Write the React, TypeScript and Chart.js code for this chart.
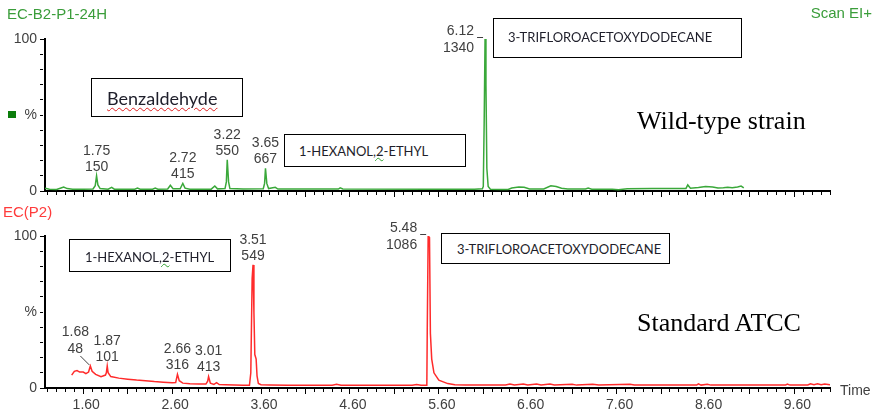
import React, { useEffect, useRef } from "react";
import { Chart, registerables } from "chart.js";

Chart.register(...registerables);

// ---------- data ----------
const X_MIN = 1.17;
const X_MAX = 10.0;
const X_LABEL_TICKS = [1.6, 2.6, 3.6, 4.6, 5.6, 6.6, 7.6, 8.6, 9.6];
const X_MAJOR_TICKS = [1.6, 2.1, 2.6, 3.1, 3.6, 4.1, 4.6, 5.1, 5.6, 6.1, 6.6, 7.1, 7.6, 8.1, 8.6, 9.1, 9.6];
const Y_TICKS = [0, 10, 20, 30, 40, 50, 60, 70, 80, 90, 100];
const Y_TICK_LABELS: Record<number, string> = { 0: "0", 50: "%", 100: "100" };

// Wild-type strain (EC-B2-P1-24H), relative intensity %
const TOP_TIME = [
  1.17, 1.22, 1.3, 1.35, 1.38, 1.42, 1.48, 1.6, 1.71, 1.735, 1.75, 1.765, 1.79, 1.88, 1.92, 1.95,
  2.18, 2.21, 2.24, 2.38, 2.41, 2.44, 2.55, 2.58, 2.61, 2.69, 2.72, 2.745, 2.8, 3.04, 3.08, 3.11,
  3.195, 3.21, 3.22, 3.235, 3.25, 3.4, 3.625, 3.64, 3.65, 3.665, 3.685, 3.76, 3.79, 4.2, 4.47, 4.49,
  4.52, 5.5, 6.0, 6.09, 6.1, 6.11, 6.12, 6.13, 6.14, 6.155, 6.18, 6.3, 6.38, 6.42, 6.5, 6.56, 6.62,
  6.78, 6.86, 6.92, 6.98, 7.05, 7.25, 7.28, 7.32, 7.55, 7.62, 7.72, 8.0, 8.38, 8.4, 8.43, 8.52, 8.6,
  8.68, 8.74, 8.8, 8.85, 8.9, 8.96, 9.0, 9.03,
];
const TOP_PCT = [
  1.8, 1.2, 1.0, 2.0, 2.6, 1.6, 1.2, 1.2, 1.3, 3.5, 10, 4, 1.6, 1.2, 2.4, 1.2,
  1.2, 1.9, 1.2, 1.2, 1.9, 1.2, 1.3, 3.8, 1.5, 1.5, 5, 1.9, 1.2, 1.2, 3.3, 1.4,
  1.6, 6, 20.5, 6, 1.6, 1.3, 1.5, 5, 15, 5, 1.6, 2.4, 1.3, 1.3, 1.3, 2.1,
  1.3, 1.2, 1.2, 1.5, 3, 45, 100, 70, 15, 3, 1.2, 1.0, 1.0, 2.0, 2.6, 2.4, 1.3,
  1.3, 3.4, 3.0, 1.8, 1.3, 1.3, 1.9, 1.2, 1.2, 0.8, 1.5, 1.6, 1.7, 4, 1.8, 2.3, 2.9,
  2.6, 2.0, 2.1, 2.4, 2.2, 2.6, 3.2, 2.0,
];

// Standard ATCC (EC(P2)), relative intensity %
const BOTTOM_TIME = [
  1.47, 1.5, 1.53, 1.56, 1.6, 1.63, 1.66, 1.68, 1.7, 1.74, 1.8, 1.85, 1.86, 1.87, 1.88, 1.91,
  2.0, 2.1, 2.2, 2.3, 2.4, 2.5, 2.6, 2.64, 2.66, 2.68, 2.72, 2.8, 2.9, 2.98, 3.0, 3.01, 3.03,
  3.07, 3.1, 3.13, 3.2, 3.3, 3.4, 3.47, 3.485, 3.5, 3.51, 3.52, 3.53, 3.545, 3.555, 3.57, 3.6,
  3.7, 3.9, 4.2, 4.4, 4.45, 4.5, 5.0, 5.3, 5.35, 5.4, 5.465, 5.47, 5.48, 5.495, 5.505, 5.52,
  5.545, 5.6, 5.7, 5.78, 5.9, 6.2, 6.35, 6.4, 6.45, 6.55, 6.6, 6.7, 6.75, 6.85, 6.9, 7.1, 7.15,
  7.33, 7.4, 7.75, 7.8, 8.5, 8.52, 8.55, 8.62, 8.66, 9.5, 9.52, 9.55, 9.75, 9.78, 9.82, 9.86,
  9.9, 9.94, 10.0,
];
const BOTTOM_PCT = [
  8.5, 11, 11.5, 10.5, 10.5, 9.5, 10.5, 14.5, 11, 9, 7.5, 8.5, 10, 14.5, 10, 7.5,
  6.5, 5.8, 5.2, 4.8, 4.2, 3.8, 3.4, 3.6, 9, 4.8, 3.2, 2.8, 2.6, 2.6, 4.5, 7.5, 3.2,
  2.4, 3.5, 2.3, 2.1, 1.9, 1.8, 1.8, 10, 72, 81, 50, 22, 19, 8, 3, 2.2,
  2.0, 1.8, 1.8, 1.8, 2.4, 1.8, 1.8, 1.8, 2.3, 1.8, 1.8, 40, 100, 99, 36, 19,
  10, 5.2, 2.9, 2.2, 2.0, 1.9, 2.0, 2.6, 2.0, 2.7, 2.0, 2.6, 2.0, 2.6, 2.0, 2.5, 1.9,
  2.4, 1.9, 2.4, 1.9, 1.9, 2.7, 1.9, 2.5, 1.9, 1.9, 2.6, 1.9, 2.0, 2.8, 2.2, 2.8,
  2.2, 2.7, 2.2,
];

// peak annotations (retention time, area)
const TOP_PEAK_TIMES = [1.75, 2.72, 3.22, 3.65, 6.12];
const TOP_PEAK_AREAS = [150, 415, 550, 667, 1340];
const TOP_PEAK_STYLE = ["above", "above", "above", "above", "left"];
const BOTTOM_PEAK_TIMES = [1.68, 1.87, 2.66, 3.01, 3.51, 5.48];
const BOTTOM_PEAK_AREAS = [48, 101, 316, 413, 549, 1086];
const BOTTOM_PEAK_STYLE = ["leader", "above", "above", "above", "above", "left"];

// ---------- styling ----------
const GREEN = "#3aa83a";
const RED = "#ff2b2b";
const LABEL_FONT = '14px "Liberation Sans", Arial, sans-serif';
const LABEL_COLOR = "#404040";

const near = (a: number, b: number) => Math.abs(a - b) < 1e-6;

const peakLabelPlugin = {
  id: "peakLabels",
  afterDatasetsDraw(chart: any, _args: any, opts: any) {
    const { times, areas, styles } = opts;
    if (!times) return;
    const ctx = chart.ctx;
    const xs = chart.scales.x;
    const ys = chart.scales.y;
    const data = chart.data.datasets[0].data as { x: number; y: number }[];
    ctx.save();
    ctx.font = LABEL_FONT;
    ctx.fillStyle = LABEL_COLOR;
    ctx.strokeStyle = LABEL_COLOR;
    ctx.lineWidth = 1;
    ctx.textBaseline = "middle";
    times.forEach((t: number, i: number) => {
      let top = 0;
      data.forEach((p) => {
        if (Math.abs(p.x - t) <= 0.02 && p.y > top) top = p.y;
      });
      const px = xs.getPixelForValue(t);
      const py = ys.getPixelForValue(top);
      const l1 = t.toFixed(2);
      const l2 = String(areas[i]);
      const style = styles[i];
      if (style === "left") {
        ctx.textAlign = "right";
        ctx.fillText(l1, px - 11, py - 8);
        ctx.fillText(l2, px - 11, py + 9);
        ctx.beginPath();
        ctx.moveTo(px - 8, py - 1.5);
        ctx.lineTo(px - 2, py - 1.5);
        ctx.stroke();
      } else if (style === "leader") {
        ctx.textAlign = "center";
        ctx.fillText(l1, px - 15, py - 34);
        ctx.fillText(l2, px - 15, py - 17);
        ctx.beginPath();
        ctx.moveTo(px - 10, py - 10);
        ctx.lineTo(px - 1, py - 1);
        ctx.stroke();
      } else {
        ctx.textAlign = "center";
        ctx.fillText(l1, px, py - 25);
        ctx.fillText(l2, px, py - 9);
      }
    });
    ctx.restore();
  },
};

function makeConfig(
  times: number[],
  pcts: number[],
  color: string,
  padTop: number,
  xAxisHeight: number,
  showXLabels: boolean,
  peaks: { times: number[]; areas: number[]; styles: string[] }
): any {
  return {
    type: "line",
    data: {
      datasets: [
        {
          data: times.map((t, i) => ({ x: t, y: pcts[i] })),
          borderColor: color,
          borderWidth: 1.5,
          pointRadius: 0,
          tension: 0,
          fill: false,
          xAxisID: "x",
          yAxisID: "y",
        },
      ],
    },
    plugins: [peakLabelPlugin],
    options: {
      animation: false,
      responsive: false,
      maintainAspectRatio: false,
      layout: { padding: { left: 0, right: 44, top: padTop, bottom: 0 } },
      plugins: {
        legend: { display: false },
        tooltip: { enabled: false },
        peakLabels: peaks,
      },
      scales: {
        x: {
          type: "linear",
          position: "bottom",
          min: X_MIN,
          max: X_MAX,
          afterBuildTicks: (s: any) => {
            // minor ticks every 0.1 min
            const arr = [];
            for (let k = 12; k <= 100; k++) arr.push({ value: k / 10 });
            s.ticks = arr;
          },
          afterFit: (s: any) => {
            s.height = xAxisHeight;
          },
          ticks: {
            display: showXLabels,
            maxRotation: 0,
            minRotation: 0,
            autoSkip: false,
            padding: 3,
            labelOffset: 3,
            color: LABEL_COLOR,
            font: { family: '"Liberation Sans", Arial, sans-serif', size: 14 },
            callback: (v: number) => (X_LABEL_TICKS.some((l) => near(l, v)) ? v.toFixed(2) : ""),
          },
          grid: {
            drawOnChartArea: false,
            tickLength: 6,
            color: "#000",
            tickColor: "#000",
            lineWidth: 1,
            tickBorderDash: (c: any) =>
              c.tick && X_MAJOR_TICKS.some((m) => near(m, c.tick.value)) ? [] : [3, 20],
          },
          border: { display: true, color: "#000", width: 2 },
        },
        y: {
          type: "linear",
          position: "left",
          min: 0,
          max: 100,
          afterBuildTicks: (s: any) => {
            s.ticks = Y_TICKS.map((v) => ({ value: v }));
          },
          afterFit: (s: any) => {
            s.width = 45;
          },
          ticks: {
            autoSkip: false,
            padding: 3,
            color: LABEL_COLOR,
            font: { family: '"Liberation Sans", Arial, sans-serif', size: 14 },
            callback: (v: number) => Y_TICK_LABELS[v] ?? "",
          },
          grid: {
            drawOnChartArea: false,
            tickLength: 5,
            color: "#000",
            tickColor: "#000",
            lineWidth: 1,
            tickBorderDash: (c: any) => (c.tick && (c.tick.value === 0 || c.tick.value === 100) ? [] : [3, 20]),
          },
          border: { display: true, color: "#000", width: 2 },
        },
      },
    },
  };
}

const abs = (s: React.CSSProperties): React.CSSProperties => ({ position: "absolute", whiteSpace: "nowrap", ...s });
const sans = '"Liberation Sans", Arial, sans-serif';
const serif = '"Liberation Serif", "Times New Roman", serif';
const box = (left: number, top: number, width: number, height: number): React.CSSProperties =>
  abs({ left, top, width, height, border: "1px solid #000", boxSizing: "border-box", background: "#fff" });

export default function App() {
  const topRef = useRef<HTMLCanvasElement>(null);
  const botRef = useRef<HTMLCanvasElement>(null);

  useEffect(() => {
    const c1 = new Chart(
      topRef.current!,
      makeConfig(TOP_TIME, TOP_PCT, GREEN, 39, 14, false, {
        times: TOP_PEAK_TIMES,
        areas: TOP_PEAK_AREAS,
        styles: TOP_PEAK_STYLE,
      })
    );
    const c2 = new Chart(
      botRef.current!,
      makeConfig(BOTTOM_TIME, BOTTOM_PCT, RED, 31, 27, true, {
        times: BOTTOM_PEAK_TIMES,
        areas: BOTTOM_PEAK_AREAS,
        styles: BOTTOM_PEAK_STYLE,
      })
    );
    return () => {
      c1.destroy();
      c2.destroy();
    };
  }, []);

  const boxText: React.CSSProperties = {
    fontFamily: "Lato, sans-serif",
    fontSize: 13,
    color: "#1e1e2a",
    lineHeight: "16px",
  };

  return (
    <div style={{ position: "absolute", left: 0, top: 0, width: 874, height: 415, background: "#fff", overflow: "hidden" }}>
      <canvas ref={topRef} width={874} height={205} style={{ position: "absolute", left: 0, top: 0 }} />
      <canvas ref={botRef} width={874} height={210} style={{ position: "absolute", left: 0, top: 205 }} />

      <div style={abs({ left: 7, top: 5, fontFamily: sans, fontSize: 15, lineHeight: "18px", color: "#3a9d3a" })}>EC-B2-P1-24H</div>
      <div style={abs({ right: 2, top: 4, fontFamily: sans, fontSize: 15, lineHeight: "18px", color: "#3a9d3a" })}>Scan EI+</div>
      <div style={abs({ left: 8, top: 111, width: 8, height: 7, background: "#0b7d0b" })} />
      <div style={abs({ left: 3, top: 203, fontFamily: sans, fontSize: 15, lineHeight: "18px", color: "#ff3b3b" })}>EC(P2)</div>
      <div style={abs({ left: 840, top: 381, fontFamily: sans, fontSize: 14, lineHeight: "18px", color: LABEL_COLOR })}>Time</div>

      <div style={abs({ left: 637, top: 106, fontFamily: serif, fontSize: 26, lineHeight: "30px", color: "#000" })}>Wild-type strain</div>
      <div style={abs({ left: 637, top: 308, fontFamily: serif, fontSize: 26, lineHeight: "30px", color: "#000" })}>Standard ATCC</div>

      <div style={box(91, 78, 152, 39)}>
        <div
          style={abs({
            left: 15,
            top: 8,
            fontFamily: "Lato, sans-serif",
            fontSize: 18,
            lineHeight: "22px",
            color: "#1e1e2a",
            textDecoration: "underline wavy #e02020",
            textDecorationThickness: "1px",
            textUnderlineOffset: "2px",
          })}
        >
          Benzaldehyde
        </div>
      </div>

      <div style={box(284, 134, 182, 33)}>
        <div style={abs({ ...boxText, left: 14, top: 8 })}>
          1-HEXANOL
          <span style={{ textDecoration: "underline wavy #2ea02e", textDecorationThickness: "1px" }}>,2</span>
          -ETHYL
        </div>
      </div>

      <div style={box(493, 18, 249, 40)}>
        <div style={abs({ ...boxText, left: 14, top: 10 })}>3-TRIFLOROACETOXYDODECANE</div>
      </div>

      <div style={box(69, 239, 162, 33)}>
        <div style={abs({ ...boxText, left: 15, top: 9 })}>
          1-HEXANOL
          <span style={{ textDecoration: "underline wavy #2ea02e", textDecorationThickness: "1px" }}>,2</span>
          -ETHYL
        </div>
      </div>

      <div style={box(441, 233, 229, 31)}>
        <div style={abs({ ...boxText, left: 15, top: 7 })}>3-TRIFLOROACETOXYDODECANE</div>
      </div>
    </div>
  );
}
